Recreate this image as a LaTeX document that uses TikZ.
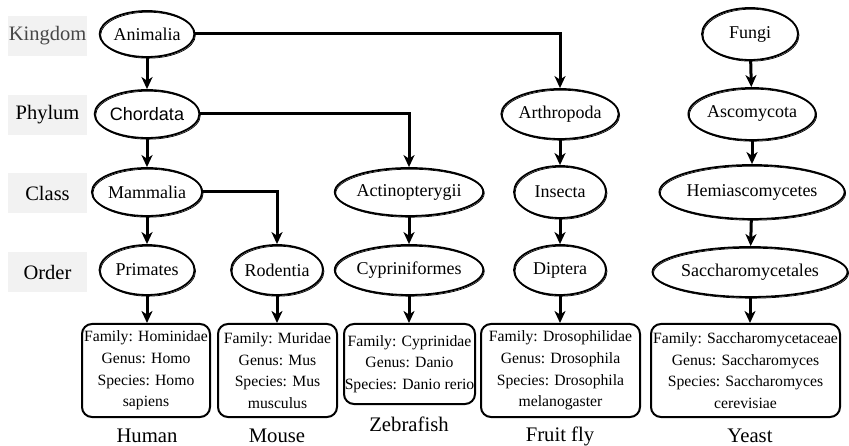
\documentclass[tikz,border=0pt]{standalone}
\usepackage{fontspec}
\setmainfont{Liberation Serif}
\newfontfamily\arialfont{Liberation Sans}
\usetikzlibrary{arrows.meta,shapes.geometric}
\begin{document}
\begin{tikzpicture}[x=1pt,y=-1pt,
  taxon/.style={ellipse,draw,line width=1.8pt,inner sep=0pt,font=\fontsize{18}{21.6}\selectfont,
    preaction={draw,line width=0.7pt,transform canvas={shift={(1pt,-1.2pt)}}}},
  rowlab/.style={fill=black!5,minimum width=79pt,minimum height=40pt,inner sep=0pt,font=\fontsize{20.5}{24}\selectfont},
  infobox/.style={draw,line width=2pt,rounded corners=10pt,inner sep=0pt,align=center,font=\fontsize{15.7}{21.7}\selectfont},
  caption/.style={inner sep=0pt,font=\fontsize{20.7}{24}\selectfont},
  arr/.style={line width=3pt,-{Stealth[length=12pt,width=11pt,inset=3.5pt]}}
]
\useasboundingbox (0,0) rectangle (849,446);
% row labels
\node[rowlab,text=black!72] (lk) at (47.5,36) {Kingdom};
\node[rowlab] (lp) at (47.5,115) {Phylum};
\node[rowlab] (lc) at (47.5,193) {Class};
\node[rowlab] (lo) at (47.5,272) {Order};
% taxa
\node[taxon,minimum width=92pt,minimum height=46pt] (anim) at (147,34) {Animalia};
\node[taxon,minimum width=90pt,minimum height=48pt,font=\arialfont\fontsize{18}{21.6}\selectfont] (chor) at (147,114) {Chordata};
\node[taxon,minimum width=93pt,minimum height=48pt] (mamm) at (147,192) {Mammalia};
\node[taxon,minimum width=95pt,minimum height=50pt] (prim) at (147,270) {Primates};
\node[taxon,minimum width=90pt,minimum height=50pt] (rode) at (277,270) {Rodentia};
\node[taxon,minimum width=122pt,minimum height=48pt] (acti) at (409,192) {Actinopterygii};
\node[taxon,minimum width=125pt,minimum height=50pt] (cypr) at (409,270) {Cypriniformes};
\node[taxon,minimum width=94pt,minimum height=50pt] (arth) at (560,114) {Arthropoda};
\node[taxon,minimum width=92pt,minimum height=52pt] (inse) at (560,192) {Insecta};
\node[taxon,minimum width=92pt,minimum height=50pt] (dipt) at (560,270) {Diptera};
\node[taxon,minimum width=96pt,minimum height=52pt] (fung) at (750,34) {Fungi};
\node[taxon,minimum width=110pt,minimum height=52pt] (asco) at (752,114) {Ascomycota};
\node[taxon,minimum width=150pt,minimum height=54pt] (hemi) at (752,192) {Hemiascomycetes};
\node[taxon,minimum width=150pt,minimum height=50pt] (sacc) at (750,272) {Saccharomycetales};
% info boxes
\node[infobox,minimum width=128pt,minimum height=93pt] (bhum) at (146,370.5) {Family: Hominidae\\Genus: Homo\\Species: Homo\\sapiens};
\node[infobox,minimum width=119pt,minimum height=93pt] (bmou) at (277.5,370.5) {Family: Muridae\\Genus: Mus\\Species: Mus\\musculus};
\node[infobox,minimum width=131pt,minimum height=80pt] (bzeb) at (409.5,364) {Family: Cyprinidae\\Genus: Danio\\Species: Danio rerio};
\node[infobox,minimum width=159pt,minimum height=93pt] (bfly) at (560.5,370.5) {Family: Drosophilidae\\Genus: Drosophila\\Species: Drosophila\\melanogaster};
\node[infobox,minimum width=189pt,minimum height=93pt] (byea) at (745.5,370.5) {Family: Saccharomycetaceae\\Genus: Saccharomyces\\Species: Saccharomyces\\cerevisiae};
% captions
\node[caption] (chum) at (147,436) {Human};
\node[caption] (cmou) at (277,436) {Mouse};
\node[caption] (czeb) at (409,424) {Zebrafish};
\node[caption] (cfly) at (560,436) {Fruit fly};
\node[caption] (cyea) at (750,436) {Yeast};
% connectors
\draw[arr] (anim) -- (chor);
\draw[arr] (chor) -- (mamm);
\draw[arr] (mamm) -- (prim);
\draw[arr] (prim) -- (prim |- bhum.north);
\draw[arr] (rode) -- (rode |- bmou.north);
\draw[arr] (acti) -- (cypr);
\draw[arr] (cypr) -- (cypr |- bzeb.north);
\draw[arr] (arth) -- (inse);
\draw[arr] (inse) -- (dipt);
\draw[arr] (dipt) -- (dipt |- bfly.north);
\draw[arr] (fung) -- (asco);
\draw[arr] (asco) -- (hemi);
\draw[arr] (hemi) -- (sacc);
\draw[arr] (sacc) -- (sacc |- byea.north);
\draw[arr] (anim.east) -| (arth.north);
\draw[arr] (chor.east) -| (acti.north);
\draw[arr] (mamm.east) -| (rode.north);
\end{tikzpicture}
\end{document}
